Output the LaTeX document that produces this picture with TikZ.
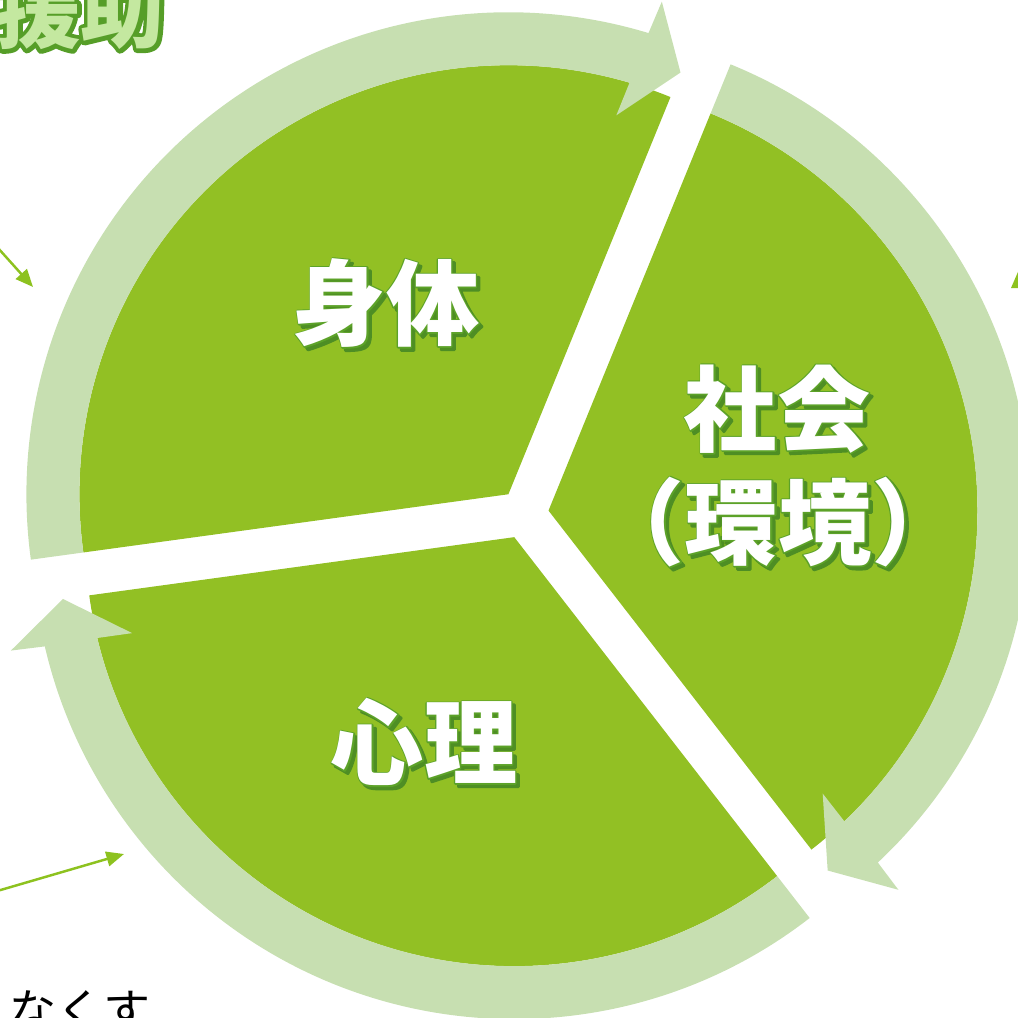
\documentclass[tikz,border=0pt]{standalone}
\usepackage{fontspec}
\newfontfamily\cjk{Noto Sans CJK JP}
\usetikzlibrary{arrows.meta,calc}
\definecolor{pie}{RGB}{146,192,36}
\definecolor{ring}{RGB}{199,223,177}
\definecolor{txtline}{RGB}{92,162,40}
\definecolor{shadowc}{RGB}{78,142,36}
\definecolor{pointer}{RGB}{141,194,31}
\definecolor{titlefill}{RGB}{196,232,160}
\definecolor{titleline}{RGB}{86,158,40}
% text render modes: 1 = stroke only, 2 = fill + stroke
\newcommand\strokemode[3]{\special{pdf:literal direct #1 RG #2 w 1 j #3 Tr}}
\newcommand\normalmode{\special{pdf:literal direct 0 Tr 0 j 0.4 w}}
% outlined text: stroke layer behind, plain fill on top
\newcommand\outlined[3]{\rlap{\strokemode{#1}{#2}{1}#3\normalmode}#3}
\tikzset{
  sectorfill/.style={fill=pie},
  ringarrow/.style={fill=ring},
  lblfont/.style={font=\cjk\bfseries\fontsize{26.5pt}{30pt}\selectfont, inner sep=0pt, align=center},
  lblshadow/.style={lblfont, text=shadowc},
  lbltext/.style={lblfont, text=white},
  titlefont/.style={font=\cjk\bfseries\fontsize{24pt}{28pt}\selectfont, inner sep=0pt, anchor=base east},
  pointerline/.style={draw=pointer, line width=0.7pt, -{Triangle[length=5pt,width=4.2pt]}},
}
\newcommand\cjklabel[3]{%
  \node[lblshadow] (#1-sh) at ([shift={(3.2,-3.2)}]#2) {\strokemode{0.306 0.557 0.141}{0.8}{2}#3\normalmode};
  \node[lbltext] (#1) at (#2) {\outlined{0.361 0.635 0.157}{0.75}{#3}};
}
\begin{document}
\begin{tikzpicture}[x=0.01cm,y=0.01cm]
\useasboundingbox (0,0) rectangle (1018,1017);
\clip (0,0) rectangle (1018,1017);
% apexes of the three exploded sectors
\coordinate (ab) at (508.4,522.75);
\coordinate (as) at (548.5,506.4);
\coordinate (ap) at (514.25,479.85);
% green sectors
\fill[sectorfill] (ab) -- ($(ab)+(67.8:429)$) arc[start angle=67.8, end angle=187.8, radius=429] -- cycle;
\fill[sectorfill] (as) -- ($(as)+(-52.2:429)$) arc[start angle=-52.2, end angle=67.8, radius=429] -- cycle;
\fill[sectorfill] (ap) -- ($(ap)+(187.8:429)$) arc[start angle=187.8, end angle=307.8, radius=429] -- cycle;
% circular arrows
\fill[ringarrow] ($(ab)+(187.8:482)$) arc[start angle=187.8, end angle=73.1, radius=482]
  -- ($(ab)+(72.7:516)$) -- ($(ab)+(67.8:455.5)$) -- ($(ab)+(74.1:394)$) -- ($(ab)+(73.6:429)$)
  arc[start angle=73.6, end angle=187.8, radius=429] -- cycle;
\fill[ringarrow] ($(as)+(67.8:482)$) arc[start angle=67.8, end angle=-46.9, radius=482]
  -- ($(as)+(-47.3:516)$) -- ($(as)+(-52.2:455.5)$) -- ($(as)+(-45.9:394)$) -- ($(as)+(-46.4:429)$)
  arc[start angle=-46.4, end angle=67.8, radius=429] -- cycle;
\fill[ringarrow] ($(ap)+(307.8:482)$) arc[start angle=307.8, end angle=193.1, radius=482]
  -- ($(ap)+(192.7:516)$) -- ($(ap)+(187.8:455.5)$) -- ($(ap)+(194.1:394)$) -- ($(ap)+(193.6:429)$)
  arc[start angle=193.6, end angle=307.8, radius=429] -- cycle;
% labels
\cjklabel{body}{386,714}{身体}
\cjklabel{soc}{777,608}{社会}
\cjklabel{env}{778,495}{（環境）}
\cjklabel{mind}{424,275}{心理}
% partial title at top left
\node[titlefont, text=titlefill] (title) at (166,975.5) {\outlined{0.337 0.620 0.157}{2.4}{援助}};
% pointer arrows
\coordinate (p1s) at (-20,789);
\coordinate (p1e) at (33,730);
\draw[pointerline] (p1s) -- (p1e);
\coordinate (p2s) at (-20,121);
\coordinate (p2e) at (124,163);
\draw[pointerline] (p2s) -- (p2e);
\fill[pointer] (1011,729) -- (1024,759) -- (1040,729) -- cycle;
% partial text at bottom
\node[font=\cjk\fontsize{13.4pt}{16pt}\selectfont, anchor=base west, inner sep=0pt] (bottomtext) at (9,-11) {なくす};
\end{tikzpicture}
\end{document}
